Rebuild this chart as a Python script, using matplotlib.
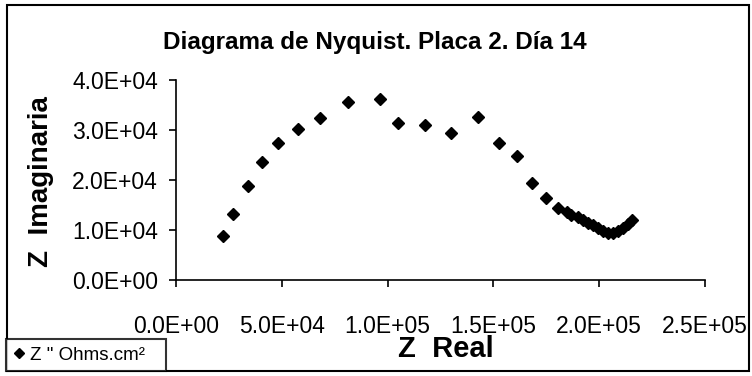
import matplotlib
matplotlib.use("Agg")
import matplotlib.pyplot as plt
from matplotlib.patches import Rectangle
from matplotlib.ticker import FuncFormatter, MultipleLocator

plt.rcParams['font.family'] = ['Liberation Sans', 'DejaVu Sans']

# Impedance data (Ohms.cm2)
z_real = [22.4e3, 26.9e3, 33.9e3, 40.6e3, 48.2e3, 57.8e3, 68.3e3, 81.1e3, 96.5e3,
          105.0e3, 117.9e3, 129.9e3, 142.5e3, 152.6e3, 161.2e3, 168.3e3, 174.9e3,
          180.6e3, 184.6e3, 186.9e3, 190.0e3, 192.4e3, 194.8e3, 197.1e3, 199.5e3,
          201.9e3, 204.2e3, 206.6e3, 209.0e3, 211.3e3, 213.7e3, 215.3e3]
z_imag = [8.8e3, 13.2e3, 18.7e3, 23.5e3, 27.4e3, 30.1e3, 32.4e3, 35.6e3, 36.2e3,
          31.4e3, 31.0e3, 29.4e3, 32.5e3, 27.3e3, 24.8e3, 19.3e3, 16.3e3,
          14.4e3, 13.5e3, 12.9e3, 12.6e3, 11.9e3, 11.3e3, 10.9e3, 10.3e3,
          9.7e3, 9.4e3, 9.4e3, 9.7e3, 10.4e3, 11.2e3, 11.9e3]

fig = plt.figure(figsize=(7.52, 3.76), dpi=100)
ax = fig.add_axes([0.234, 0.2553, 0.7035, 0.532])

ax.plot(z_real, z_imag, linestyle='none', marker='D', markersize=6.3,
        color='black', label='Z " Ohms.cm²')

ax.set_xlim(0, 2.5e5)
ax.set_ylim(0, 4.0e4)
ax.xaxis.set_major_locator(MultipleLocator(5e4))
ax.yaxis.set_major_locator(MultipleLocator(1e4))

def sci(v, pos):
    return f"{v:.1E}"

ax.xaxis.set_major_formatter(FuncFormatter(sci))
ax.yaxis.set_major_formatter(FuncFormatter(sci))

for side in ('top', 'right'):
    ax.spines[side].set_visible(False)
for side in ('left', 'bottom'):
    ax.spines[side].set_linewidth(1.2)

ax.tick_params(axis='x', direction='out', length=5, width=1.2, pad=20, labelsize=16.5)
ax.tick_params(axis='y', direction='out', length=5, width=1.2, pad=8, labelsize=16.5)

ax.set_title('Diagrama de Nyquist. Placa 2. Día 14', fontsize=17.5,
             fontweight='bold', pad=22)
ax.title.set_position((0.3765, 1.0))
ax.set_xlabel('Z  Real', fontsize=21, fontweight='bold')
ax.xaxis.set_label_coords(0.51, -0.275)
ax.set_ylabel('Z  Imaginaria', fontsize=20, fontweight='bold')
ax.yaxis.set_label_coords(-0.231, 0.49)

# Outer frame of the chart
fig.patches.append(Rectangle((7 / 752, 5 / 376), 742 / 752, 366 / 376,
                             transform=fig.transFigure, fill=False,
                             edgecolor='black', linewidth=1.5))

leg = fig.legend(loc='lower left', bbox_to_anchor=(0.008, 0.013, 0.213, 0.09),
                 mode='expand', fontsize=13.5, frameon=True, fancybox=False,
                 handlelength=0.6, handletextpad=0.3, borderpad=0.4,
                 markerscale=0.75, borderaxespad=0)
leg.get_frame().set_edgecolor('black')
leg.get_frame().set_linewidth(1.5)

fig.savefig('out.png', dpi=100)
